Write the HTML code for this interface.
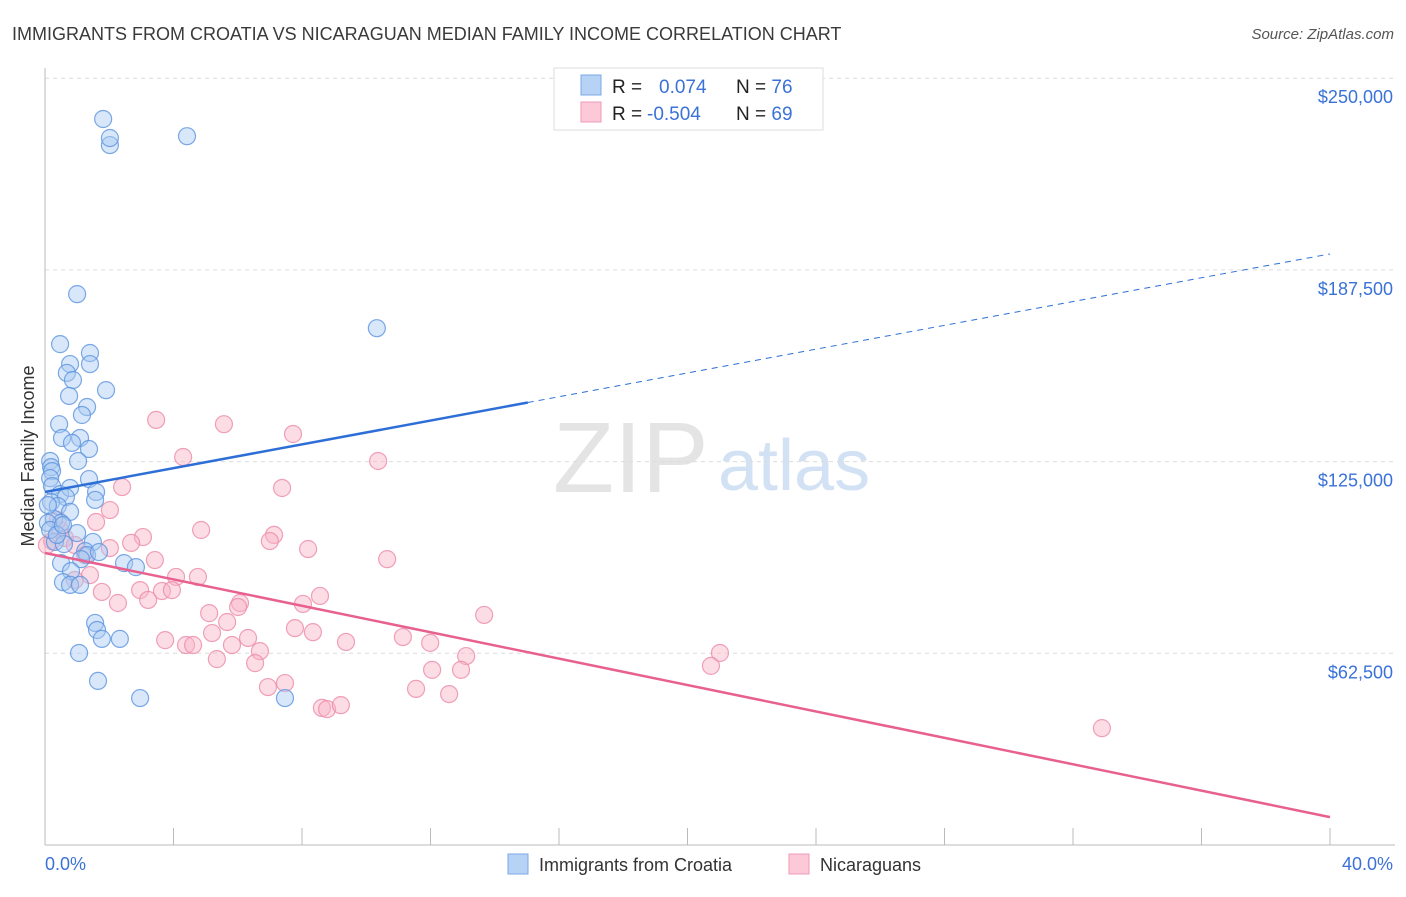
<!DOCTYPE html>
<html><head><meta charset="utf-8"><style>
body{margin:0;background:#fff;font-family:"Liberation Sans",sans-serif;}
svg text{font-family:"Liberation Sans",sans-serif;}
</style></head><body>
<svg id="chart" width="1406" height="892">
<text x="12" y="40" font-size="18" fill="#3a3a3a">IMMIGRANTS FROM CROATIA VS NICARAGUAN MEDIAN FAMILY INCOME CORRELATION CHART</text>
<text x="1394" y="39" font-size="15" fill="#555" text-anchor="end" font-style="italic">Source: ZipAtlas.com</text>
<g>
<text x="553" y="492" font-size="100" fill="#e4e4e4" font-family="Liberation Serif">ZIP</text>
<text x="718" y="490" font-size="72" fill="#d2e2f4">atlas</text>
</g>
<g id="grid"></g><g id="axes"></g><g id="marks"></g><g id="trends"></g>
<text transform="translate(34,456) rotate(-90)" font-size="18" fill="#333" text-anchor="middle">Median Family Income</text>
<g>
<rect x="554" y="68" width="269" height="62" fill="#fff" stroke="#ddd"/>
<rect x="581" y="75" width="20" height="20" fill="#b6d2f5" stroke="#7aa8e6"/>
<rect x="581" y="102" width="20" height="20" fill="#fdc8d8" stroke="#f19ab5"/>
<text x="612" y="93" font-size="19" fill="#222">R = <tspan x="659" fill="#3a72d8">0.074</tspan></text>
<text x="736" y="93" font-size="19" fill="#222">N = <tspan fill="#3a72d8">76</tspan></text>
<text x="612" y="120" font-size="19" fill="#222">R = <tspan x="647" fill="#3a72d8">-0.504</tspan></text>
<text x="736" y="120" font-size="19" fill="#222">N = <tspan fill="#3a72d8">69</tspan></text>
</g>
<g>
<rect x="508" y="854" width="20" height="20" fill="#b6d2f5" stroke="#7aa8e6"/>
<text x="539" y="871" font-size="18" fill="#333">Immigrants from Croatia</text>
<rect x="789" y="854" width="20" height="20" fill="#fdc8d8" stroke="#f19ab5"/>
<text x="820" y="871" font-size="18" fill="#333">Nicaraguans</text>
</g>
</svg>
<script>
const yTicks=[62500,125000,187500,250000];
const yTickLabels=["$62,500","$125,000","$187,500","$250,000"];
const xTickLabels=["0.0%","40.0%"];
const blueX=[1.81,2.02,2.02,4.42,1.00,10.33,0.47,1.40,1.40,0.78,0.68,0.87,1.90,1.31,0.75,1.15,0.44,0.53,1.09,0.84,1.37,0.16,1.03,0.19,0.22,0.16,1.37,0.22,0.47,0.78,1.59,0.65,1.56,0.19,0.40,0.78,0.28,0.50,0.09,1.00,0.31,0.59,1.49,1.25,1.31,1.12,1.68,0.50,0.81,2.46,2.83,0.56,0.78,1.09,1.56,1.62,1.77,2.33,1.06,1.65,2.96,7.47,0.09,0.16,0.37,0.56];
const blueY=[236.7,228.2,230.5,231.1,179.6,168.5,163.3,160.4,156.8,156.8,153.9,151.6,148.3,142.8,146.4,140.2,137.2,132.7,132.7,131.1,129.1,125.2,125.2,123.2,121.9,119.6,119.3,117.0,114.4,116.4,115.1,113.4,112.5,111.8,110.5,108.6,106.3,105.0,105.0,101.7,98.8,98.1,98.8,95.8,94.5,93.2,95.5,91.9,89.3,91.9,90.6,85.7,84.8,84.8,72.4,70.1,67.2,67.2,62.6,53.5,47.9,47.9,110.8,102.7,101.1,104.3];
const pinkX=[3.46,5.57,7.72,4.30,10.37,2.40,7.38,1.59,4.86,7.13,7.00,8.19,0.22,0.47,0.62,0.93,1.25,2.02,3.05,2.68,10.65,4.08,4.76,2.96,3.64,3.95,1.77,6.07,6.01,8.03,8.56,2.27,3.21,5.11,13.67,5.67,5.20,7.78,8.34,3.74,4.39,4.61,6.32,9.37,11.14,11.99,5.82,6.69,13.11,21.01,5.35,6.54,12.05,12.95,20.73,6.94,7.47,11.55,12.58,8.62,8.78,9.21,32.90,0.06,0.93,1.40,3.42,0.40,2.02];
const pinkY=[138.6,137.2,134.0,126.5,125.2,116.7,116.4,105.3,102.7,101.1,99.1,96.5,99.1,102.7,100.1,97.8,94.5,96.8,100.4,98.5,93.2,87.4,87.4,83.1,82.8,83.1,82.5,78.9,77.6,78.6,81.2,78.9,79.9,75.6,75.0,72.7,69.1,70.7,69.4,66.8,65.2,65.2,67.5,66.2,67.8,65.9,65.2,63.2,61.6,62.6,60.6,59.3,57.1,57.1,58.4,51.5,52.8,50.9,49.2,44.7,44.3,45.6,38.1,97.8,86.4,88.0,92.9,105.9,109.2];
const blueTrend=[115.1,192.7]; // value at 0% and 40% (thousands)
const blueSolidEnd=15.03;
const pinkTrend=[95.2,9.1];

const NS="http://www.w3.org/2000/svg";
const X0=45,X1=1330,YB=845,PXK=191.7/62.5;
function sx(p){return X0+(p/40)*(X1-X0);}
function sy(k){return YB-k*PXK;}
function mk(tag,attrs,parent){const e=document.createElementNS(NS,tag);for(const k in attrs)e.setAttribute(k,attrs[k]);parent.appendChild(e);return e;}
const grid=document.getElementById('grid'),axes=document.getElementById('axes'),marks=document.getElementById('marks'),trends=document.getElementById('trends');
yTicks.forEach((v,i)=>{
  const y=sy(v/1000);
  const l=mk('line',{x1:X0,x2:1395,y1:y,y2:y,stroke:'#dcdcdc','stroke-dasharray':'4,4'},grid);
  
  
  const t=mk('text',{x:1393,y:y+25,'font-size':18,fill:'#3a72d8','text-anchor':'end'},grid);
  t.textContent=yTickLabels[i];
  
  
});
const ax=mk('line',{x1:X0,x2:X0,y1:68,y2:YB,stroke:'#bbb'},axes);


const bx=mk('line',{x1:X0,x2:1395,y1:YB,y2:YB,stroke:'#bbb'},axes);


for(let i=0;i<=10;i++){
  const x=sx(i*4);
  const t=mk('line',{x1:x,x2:x,y1:828,y2:YB,stroke:'#bbb'},axes);
  
  
}
const xl0=mk('text',{x:X0,y:870,'font-size':18,fill:'#3a72d8'},axes);xl0.textContent=xTickLabels[0];


const xl1=mk('text',{x:1393,y:870,'font-size':18,fill:'#3a72d8','text-anchor':'end'},axes);xl1.textContent=xTickLabels[1];


function dots(xs,ys,fill,stroke,name){xs.forEach((x,i)=>{
  const c=mk('circle',{cx:sx(x),cy:sy(ys[i]),r:8.5,fill:fill,'fill-opacity':0.45,stroke:stroke,'stroke-width':1.2,'stroke-opacity':0.8},marks);
  
  
});}
dots(pinkX,pinkY,'#f8b4c8','#ec8aa8','nicaraguan-point');
dots(blueX,blueY,'#a9c9f2','#5b93e0','croatia-point');
function tv(t,p){return t[0]+(t[1]-t[0])*p/40;}
const b1=mk('line',{x1:sx(0),y1:sy(tv(blueTrend,0)),x2:sx(blueSolidEnd),y2:sy(tv(blueTrend,blueSolidEnd)),stroke:'#2d6fd6','stroke-width':2.5},trends);


const b2=mk('line',{x1:sx(blueSolidEnd),y1:sy(tv(blueTrend,blueSolidEnd)),x2:sx(40),y2:sy(tv(blueTrend,40)),stroke:'#2d6fd6','stroke-width':1,'stroke-dasharray':'6,5'},trends);


const p1=mk('line',{x1:sx(0),y1:sy(tv(pinkTrend,0)),x2:sx(40),y2:sy(tv(pinkTrend,40)),stroke:'#e8608f','stroke-width':2.5},trends);


</script>
</body></html>
